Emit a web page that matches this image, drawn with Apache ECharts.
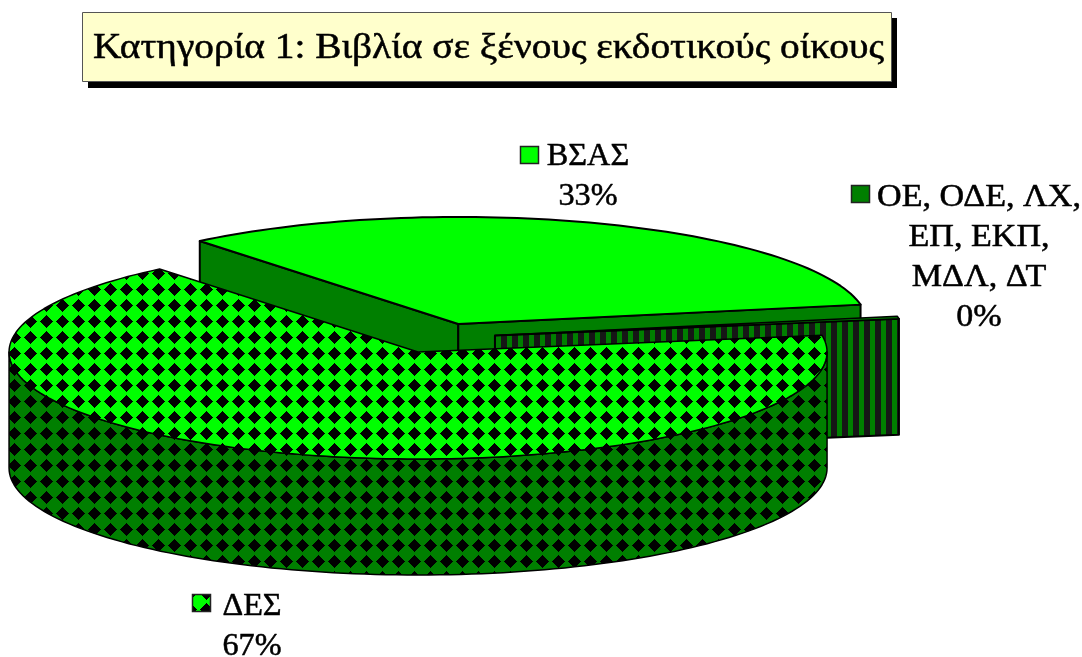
<!DOCTYPE html>
<html><head><meta charset="utf-8">
<style>html,body{margin:0;padding:0;background:#fff}#c{width:1082px;height:657px}</style>
<script src="https://cdn.jsdelivr.net/npm/echarts@6/dist/echarts.min.js"></script>
</head><body><div id="c"></div>
<script>
const titleText = 'Κατηγορία 1: Βιβλία σε ξένους εκδοτικούς οίκους';
const categories = ['ΒΣΑΣ', 'ΟΕ, ΟΔΕ, ΛΧ,\nΕΠ, ΕΚΠ,\nΜΔΛ, ΔΤ', 'ΔΕΣ'];
const sliceValues = [33, 0.4, 66.6];
const percentLabels = ['33%', '0%', '67%'];

// Pie projection
const CX = 438.5, CY = 338, RX = 409, RY = 107, DEPTH = 116, EXPLODE = 0.14, START_DEG = 230.8;
const FONT = '"Liberation Serif", serif';
const GREEN = '#00FF00', DARK = '#007F00';
const labelPos = [
  {cx: 588, y: 157, keyX: 520.5, keyY: 146.5, sx: 1.04},
  {cx: 979, y: 198, keyX: 851.5, keyY: 185.5, sx: 1.1},
  {cx: 252, y: 606.5, keyX: 192.5, keyY: 594.5, sx: 1.04}
];

function diamondPattern(bg) {
  const c = document.createElement('canvas'); c.width = c.height = 16;
  const g = c.getContext('2d'); g.fillStyle = bg; g.fillRect(0, 0, 16, 16); g.fillStyle = '#000';
  for (let y = 0; y < 16; y++) for (let x = 0; x < 16; x++) {
    let dx = Math.abs(x - 14); dx = Math.min(dx, 16 - dx);
    let dy = Math.abs(y - 1); dy = Math.min(dy, 16 - dy);
    if (dx + dy <= 6) g.fillRect(x, y, 1, 1);
  }
  return {image: c, repeat: 'repeat'};
}
function stripePattern() {
  const c = document.createElement('canvas'); c.width = 11; c.height = 4;
  const g = c.getContext('2d'); g.fillStyle = '#161616'; g.fillRect(0, 0, 11, 4);
  g.fillStyle = DARK; g.fillRect(1, 0, 5, 4);
  return {image: c, repeat: 'repeat'};
}
const patTop = diamondPattern(GREEN), patWall = diamondPattern(DARK), patStripe = stripePattern();

function arc(c, a0, a1, dz) {
  const pts = [], n = Math.max(2, Math.ceil(Math.abs(a1 - a0) / 1.5));
  for (let i = 0; i <= n; i++) {
    const t = (a0 + (a1 - a0) * i / n) * Math.PI / 180;
    pts.push([c[0] + RX * Math.cos(t), c[1] + RY * Math.sin(t) + dz]);
  }
  return pts;
}
function poly(points, fill, lw) {
  return {type: 'polygon', shape: {points}, silent: true,
          style: {fill, stroke: '#000', lineWidth: lw, lineJoin: 'round'}};
}
function text(str, x, y, sx, size) {
  return {type: 'text', silent: true, x, y, scaleX: sx,
          style: {text: str, x: 0, y: 0, fill: '#000', stroke: '#000', lineWidth: 0.5,
          fontSize: size, fontFamily: FONT, textAlign: 'center', textVerticalAlign: 'middle'}};
}
const total = sliceValues.reduce((a, b) => a + b, 0);

function renderItem(params, api) {
  const i = params.dataIndex;
  let before = 0;
  for (let k = 0; k < i; k++) before += sliceValues[k];
  const v = api.value(0);
  const a0 = START_DEG + before / total * 360, a1 = a0 + v / total * 360, mid = (a0 + a1) / 2 * Math.PI / 180;
  const c = [CX + EXPLODE * RX * Math.cos(mid), CY + EXPLODE * RY * Math.sin(mid)];
  const kids = [];
  const tipA = arc(c, a0, a0, 0)[0], tipB = arc(c, a1, a1, 0)[0];
  const down = p => [p[0], p[1] + DEPTH];
  const topFace = [c].concat(arc(c, a0, a1, 0));
  if (i === 0) {
    kids.push(poly([c, tipA, down(tipA), down(c)], DARK, 2));
    kids.push(poly([c, tipB, down(tipB), down(c)], DARK, 2));
    kids.push(poly(topFace, GREEN, 2));
  } else if (i === 1) {
    kids.push(poly([c, tipB, down(tipB), down(c)], patStripe, 2));
    kids.push(poly(topFace, DARK, 1.5));
  } else {
    const wallTop = arc(c, 360, 540, 0);
    kids.push(poly(wallTop.concat(wallTop.map(down).reverse()), patWall, 1.5));
    kids.push(poly(topFace, patTop, 1.5));
  }
  // data label with legend key
  const L = labelPos[i];
  const lines = categories[i].split('\n').concat(percentLabels[i]);
  kids.push({type: 'rect', silent: true, shape: {x: L.keyX, y: L.keyY, width: 18, height: 17},
             style: {fill: i === 0 ? GREEN : i === 1 ? DARK : patTop, stroke: '#222', lineWidth: 1.5}});
  lines.forEach((s, n) => kids.push(text(s, L.cx, L.y + n * 40, L.sx, 31)));
  return {type: 'group', children: kids};
}

const chart = echarts.init(document.getElementById('c'));
chart.setOption({
  animation: false,
  backgroundColor: '#fff',
  graphic: [
    {type: 'rect', silent: true, shape: {x: 88, y: 18, width: 809, height: 70}, style: {fill: '#000'}},
    {type: 'rect', silent: true, shape: {x: 82.5, y: 12.5, width: 809, height: 69}, style: {fill: '#FFFFCC', stroke: '#555', lineWidth: 1}},
    text(titleText, 488.5, 48.5, 1.125, 35)
  ],
  series: [{
    type: 'custom', coordinateSystem: 'none', clip: false,
    data: sliceValues.map((v, i) => ({name: categories[i], value: [v]})),
    renderItem
  }]
});
</script></body></html>
